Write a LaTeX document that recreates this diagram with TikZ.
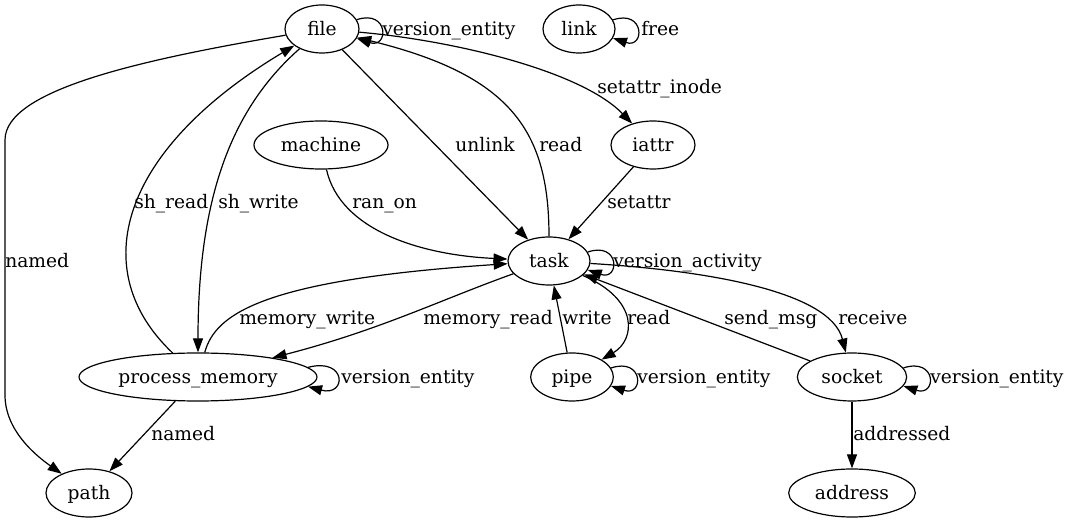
\documentclass[tikz,border=0pt]{standalone}
\usepackage{fontspec}
\setmainfont{DejaVu Serif}
\usetikzlibrary{arrows.meta}
\usetikzlibrary{shapes.geometric}

\begin{document}
\begin{tikzpicture}[x=0.75pt,y=-0.75pt,
  every node/.style={font=\fontsize{14pt}{17pt}\selectfont,text height=12.5pt,text depth=3pt},
  ent/.style={draw,ellipse,inner sep=0pt,minimum height=36pt,line width=0.9pt},
  lbl/.style={inner sep=0pt,anchor=west},
  rel/.style={draw,line width=0.9pt,-{Triangle[length=10.5pt,width=7.5pt]}}]

\useasboundingbox (0,0) rectangle (1071,523);

\node[ent,minimum width=55.5pt] (file) at (322,29) {file};
\node[ent,minimum width=54pt] (link) at (579,29) {link};
\node[ent,minimum width=100.5pt] (machine) at (321,145) {machine};
\node[ent,minimum width=63pt] (iattr) at (653,145) {iattr};
\node[ent,minimum width=61.5pt] (task) at (549,261) {task};
\node[ent,minimum width=178.5pt] (pm) at (198,377) {process\_memory};
\node[ent,minimum width=62pt] (pipe) at (572,377) {pipe};
\node[ent,minimum width=82pt] (socket) at (852,377) {socket};
\node[ent,minimum width=64.5pt] (path) at (89,493) {path};
\node[ent,minimum width=95pt] (address) at (852,493) {address};

% file
\draw[rel] (file) .. controls (140,60) and (5,90) .. (5,140) -- (5,395) .. controls (5,430) and (35,455) .. (path);
\draw[rel] (file.15) .. controls (389,9) and (389,49) .. (file.-15);
\draw[rel] (file) -- (task);
\draw[rel] (task) .. controls (549,130) and (510,75) .. (file);
\draw[rel] (file) .. controls (450,40) and (580,70) .. (iattr);
\draw[rel] (link.15) .. controls (645,9) and (645,49) .. (link.-15);
\draw[rel] (pm) .. controls (85,270) and (120,150) .. (file);
\draw[rel] (file) .. controls (230,110) and (198,200) .. (pm);

% task
\draw[rel] (machine) .. controls (340,230) and (420,255) .. (task);
\draw[rel] (iattr) -- (task);
\draw[rel] (task.13) .. controls (620,241) and (620,281) .. (task.-13);
\draw[rel] (pm) .. controls (215,315) and (260,280) .. (task);
\draw[rel] (task) .. controls (440,300) and (380,330) .. (pm);
\draw[rel] (pipe) -- (task);
\draw[rel] (task) .. controls (640,300) and (635,340) .. (pipe);
\draw[rel] (socket) -- (task);
\draw[rel] (task) .. controls (700,270) and (830,290) .. (socket);

% lower row
\draw[rel] (pipe.13) .. controls (644,357) and (644,397) .. (pipe.-13);
\draw[rel] (socket.10) .. controls (937,357) and (937,397) .. (socket.-10);
\draw[rel] (socket) -- (address);
\draw[rel] (pm.5) .. controls (347,357) and (347,397) .. (pm.-5);
\draw[rel] (pm) -- (path);

\node[lbl] (l-named) at (5,261) {named};
\node[lbl] (l-vefile) at (382,29) {version\_entity};
\node[lbl] (l-unlink) at (455,145) {unlink};
\node[lbl] (l-readf) at (539,145) {read};
\node[lbl] (l-setino) at (597,87) {setattr\_inode};
\node[lbl] (l-free) at (641,29) {free};
\node[lbl] (l-shread) at (134,202) {sh\_read};
\node[lbl] (l-shwrite) at (218,202) {sh\_write};
\node[lbl] (l-ranon) at (352,202) {ran\_on};
\node[lbl] (l-setattr) at (607,202) {setattr};
\node[lbl] (l-vatask) at (613,261) {version\_activity};
\node[lbl] (l-memw) at (239,318) {memory\_write};
\node[lbl] (l-memr) at (423,318) {memory\_read};
\node[lbl] (l-write) at (562,318) {write};
\node[lbl] (l-readp) at (627,318) {read};
\node[lbl] (l-send) at (724,318) {send\_msg};
\node[lbl] (l-recv) at (838,318) {receive};
\node[lbl] (l-vepm) at (341,377) {version\_entity};
\node[lbl] (l-vepipe) at (637,377) {version\_entity};
\node[lbl] (l-vesock) at (930,377) {version\_entity};
\node[lbl] (l-named2) at (151,434) {named};
\node[lbl] (l-addr) at (853,434) {addressed};
\end{tikzpicture}
\end{document}
